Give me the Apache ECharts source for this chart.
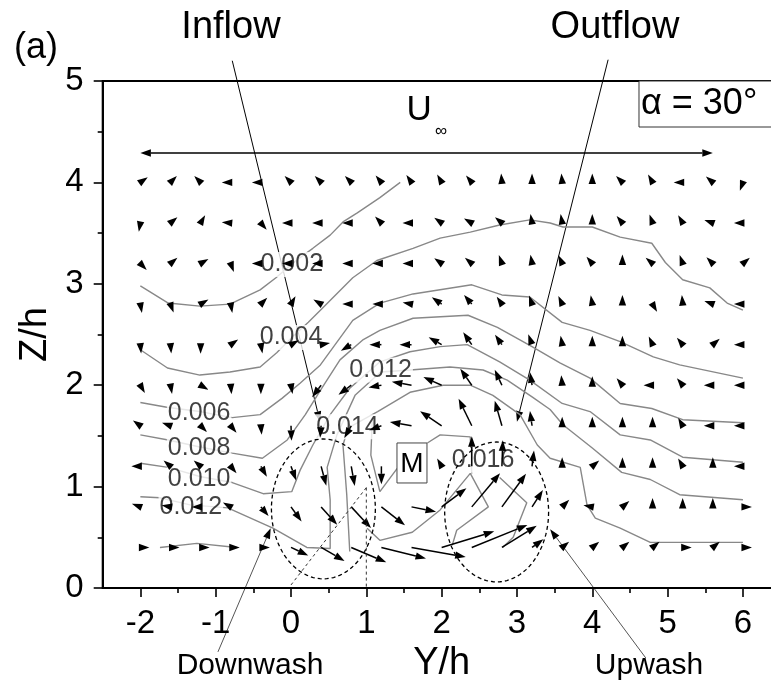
<!DOCTYPE html>
<html><head><meta charset="utf-8">
<script src="https://cdn.jsdelivr.net/npm/echarts@6.0.0/dist/echarts.min.js"></script>
<style>html,body{margin:0;padding:0;background:#fff;}#chart{width:771px;height:688px;}</style>
</head><body><div id="chart"></div>
<script>
// ---------- DATA ----------
const colY = [-2.0,-1.6,-1.2,-0.8,-0.4,0.0,0.4,0.8,1.2,1.6,2.0,2.4,2.8,3.2,3.6,4.0,4.4,4.8,5.2,5.6,6.0];
const rowZ = [4.0,3.6,3.2,2.8,2.4,2.0,1.6,1.2,0.8,0.4];
// vector direction (deg, 0 = +Y, 90 = +Z) for each row
const dirZ40 = [35,45,135,180,180,135,135,135,130,125,120,130,95,90,95,90,135,120,180,140,-110];
const dirZ36 = [-100,40,60,175,-50,180,180,180,135,180,145,150,140,100,100,90,130,110,120,160,180];
const dirZ32 = [-45,40,30,-70,180,180,180,180,180,180,145,140,110,100,115,130,90,140,110,135,40];
const dirZ28 = [-80,-70,30,-80,45,60,150,180,180,170,145,130,125,110,115,100,90,-60,95,160,180];
const dirZ24 = [-85,-85,-90,35,-80,30,10,-150,180,180,150,125,125,110,100,90,90,115,130,40,180];
const dirZ20 = [-60,-80,-30,-85,-90,-80,-127,-143,190,170,156,125,115,99,95,90,130,180,130,180,180];
const dirZ16 = [145,160,-45,-50,-85,-88,-95,-120,-160,170,146,116,106,98,90,90,90,90,120,180,180];
const dirZ12 = [180,140,140,-50,-60,-70,-75,-80,-90,120,120,90,88,83,90,40,90,90,120,90,180];
const dirZ08 = [160,170,180,150,-50,-54,-48,-47,-38,-11,37,50,54,57,45,170,40,90,90,90,0];
const dirZ04 = [0,0,0,0,0,-25,-30,-23,-14,-10,17,22,32,36,40,40,40,40,0,40,0];
// vector magnitude (arbitrary units) for each row
const magZ40 = [0.9,0.9,0.9,0.9,0.9,0.9,0.9,0.9,0.9,0.9,0.9,0.9,0.9,0.9,0.9,0.9,0.9,0.9,0.9,0.9,0.9];
const magZ36 = [0.9,0.9,0.9,0.9,0.9,0.9,0.9,0.9,0.9,0.9,0.9,0.9,0.9,0.9,0.9,0.9,0.9,0.9,0.9,0.9,0.9];
const magZ32 = [0.9,0.9,0.9,0.9,0.9,0.9,0.9,0.9,0.9,0.9,0.9,0.9,0.9,0.9,0.9,0.9,0.9,0.9,0.9,0.9,0.9];
const magZ28 = [0.9,0.9,0.9,0.9,0.9,0.9,0.9,0.9,0.9,0.9,1.2,1.2,0.9,0.9,0.9,0.9,0.9,0.9,0.9,0.9,0.9];
const magZ24 = [0.9,0.9,0.9,0.9,0.9,0.9,0.9,1.2,1.2,1.2,1.5,1.5,1.2,1.1,0.9,0.9,0.9,0.9,0.9,0.9,0.9];
const magZ20 = [0.9,0.9,0.9,0.9,0.9,0.9,1.5,1.6,1.3,2.0,2.0,2.0,1.7,1.3,1.0,0.9,0.9,0.9,0.9,0.9,0.9];
const magZ16 = [0.9,0.9,0.9,0.9,0.9,1.5,1.2,1.4,1.3,2.2,2.6,3.0,2.6,1.5,0.9,0.9,0.9,0.9,0.9,0.9,0.9];
const magZ12 = [0.9,0.9,0.9,0.9,1.2,1.5,2.0,2.0,1.8,0.9,0.9,3.0,2.6,1.6,0.9,0.9,0.9,0.9,0.9,0.9,0.9];
const magZ08 = [0.9,0.9,0.9,0.9,1.2,1.8,2.4,2.9,3.0,2.5,3.1,4.4,4.1,2.0,1.0,0.9,0.9,0.9,0.9,0.9,0.9];
const magZ04 = [0.9,0.9,0.9,0.9,0.9,1.9,2.7,3.8,4.6,5.5,5.5,6.0,4.1,1.4,0.9,0.9,0.9,0.9,0.9,0.9,0.9];

// contour lines [Y/h, Z/h]
const c002 = [[-2.0,2.98],[-1.63,2.81],[-1.21,2.78],[-0.81,2.80],[-0.41,2.94],[-0.2,3.06],[0.05,3.22],[0.29,3.35],[0.52,3.48],[0.69,3.61],[0.88,3.70],[1.18,3.85],[1.45,4.0]];
const c004 = [[-2.0,2.35],[-1.64,2.17],[-1.21,2.10],[-0.81,2.13],[-0.41,2.18],[-0.19,2.32],[0.01,2.47],[0.23,2.62],[0.39,2.74],[0.82,3.06],[1.14,3.23],[1.62,3.35],[1.98,3.45],[2.38,3.51],[2.77,3.58],[3.17,3.63],[3.44,3.60],[3.61,3.56],[4.0,3.56],[4.37,3.46],[4.79,3.40],[4.97,3.21],[5.2,3.04],[5.56,2.96],[5.79,2.81],[6.0,2.74]];
const c006 = [[-2.0,1.83],[-1.63,1.78],[-1.21,1.74],[-0.78,1.68],[-0.41,1.71],[-0.12,1.87],[0.12,2.02],[0.39,2.20],[0.82,2.64],[1.18,2.81],[1.62,2.90],[2.40,2.99],[2.80,2.89],[3.17,2.87],[3.60,2.62],[3.97,2.54],[4.37,2.43],[4.81,2.28],[5.16,2.20],[6.0,2.07]];
const c008 = [[-2.0,1.51],[-1.63,1.46],[-1.21,1.39],[-0.78,1.33],[-0.38,1.28],[-0.05,1.46],[0.19,1.71],[0.39,1.95],[0.65,2.25],[0.96,2.45],[1.18,2.54],[1.62,2.66],[2.35,2.69],[2.74,2.57],[3.20,2.38],[3.57,2.22],[3.97,2.07],[4.37,1.82],[4.79,1.77],[5.20,1.66],[6.0,1.63]];
const c010 = [[-2.0,1.23],[-1.63,1.19],[-1.21,1.10],[-0.78,1.04],[-0.37,0.93],[0.01,0.95],[0.12,1.16],[0.29,1.41],[0.52,1.71],[0.78,1.97],[1.18,2.23],[1.58,2.33],[1.98,2.38],[2.34,2.40],[2.77,2.23],[3.17,2.05],[3.60,1.82],[3.97,1.74],[4.37,1.51],[4.77,1.46],[5.20,1.29],[6.0,1.24]];
const c012 = [[-2.0,0.90],[-1.74,0.89],[-1.34,0.82],[-0.84,0.79],[-0.24,0.59],[0.21,0.40],[0.52,0.39],[0.52,0.87],[0.48,1.19],[0.61,1.51],[0.85,1.90],[1.19,2.13],[1.58,2.15],[2.11,2.18],[2.55,2.15],[2.87,2.05],[3.21,1.88],[3.44,1.76],[3.61,1.61],[4.00,1.38],[4.39,1.14],[4.77,1.07],[5.16,0.92],[6.0,0.87]];
const c014 = [[0.78,0.36],[0.74,0.92],[0.69,1.41],[0.76,1.58],[1.15,1.74],[1.58,1.93],[2.02,2.00],[2.38,2.00],[2.68,1.90],[3.04,1.71],[3.27,1.41],[3.44,1.28],[3.84,1.19],[3.93,0.82],[4.04,0.69],[4.37,0.59],[4.77,0.45],[6.0,0.45]];
const c016a = [[1.08,1.68],[1.06,1.31],[1.18,0.95],[1.41,1.18]];
const c016b = [[1.81,1.43],[1.98,1.51],[2.38,1.49],[2.40,1.13]];
const c016c = [[1.01,0.59],[1.18,0.47],[1.61,0.55],[1.98,0.77],[2.38,1.13],[2.62,0.80],[2.20,0.57],[2.14,0.42]];
const c016d = [[2.77,1.09],[3.13,0.84],[2.95,0.50],[2.81,0.40]];
const cLow = [[-1.74,0.40],[-1.25,0.44],[-0.72,0.40]];
// contour labels [Y/h, Z/h, text]
const contourLabels = [[0.01,3.19,'0.002'],[0.0,2.47,'0.004'],[-1.22,1.72,'0.006'],[-1.22,1.38,'0.008'],[-1.22,1.07,'0.010'],[-1.33,0.80,'0.012'],[1.19,2.15,'0.012'],[0.75,1.59,'0.014'],[2.55,1.26,'0.016']];
// axis ticks
const xTicks = [-2,-1,0,1,2,3,4,5,6];
const xMinorTicks = [-1.5,-0.5,0.5,1.5,2.5,3.5,4.5,5.5];

// ---------- BUILD ----------
const FONT = '"Liberation Sans", Arial, Helvetica, sans-serif';
const dirRows = [dirZ40,dirZ36,dirZ32,dirZ28,dirZ24,dirZ20,dirZ16,dirZ12,dirZ08,dirZ04];
const magRows = [magZ40,magZ36,magZ32,magZ28,magZ24,magZ20,magZ16,magZ12,magZ08,magZ04];
const vectors = [];
rowZ.forEach((z, r) => colY.forEach((y, c) => vectors.push([y, z, dirRows[r][c], magRows[r][c]])));

const ARROW_SCALE = 10, HEAD_LEN = 10.5, HEAD_HALF = 3.7;
function arrowParts(p0, p1, color, width, headAtStart) {
  const dx = p1[0]-p0[0], dy = p1[1]-p0[1];
  const L = Math.hypot(dx, dy) || 1;
  const ux = dx/L, uy = dy/L;
  const hl = HEAD_LEN, hw = HEAD_HALF;
  const parts = [];
  const b = [p1[0]-ux*hl, p1[1]-uy*hl];
  let s = p0;
  if (headAtStart) {
    const b0 = [p0[0]+ux*hl, p0[1]+uy*hl];
    parts.push({type:'polygon', shape:{points:[p0,[b0[0]-uy*hw,b0[1]+ux*hw],[b0[0]+uy*hw,b0[1]-ux*hw]]}, style:{fill:'#000'}});
    s = b0;
  }
  if (L > hl + 0.5) parts.push({type:'line', shape:{x1:s[0],y1:s[1],x2:b[0],y2:b[1]}, style:{stroke:color, lineWidth:width}});
  parts.push({type:'polygon', shape:{points:[p1,[b[0]-uy*hw,b[1]+ux*hw],[b[0]+uy*hw,b[1]-ux*hw]]}, style:{fill:'#000'}});
  return parts;
}

function contourSeries(data) {
  return {type:'line', data:data, xAxisIndex:0, yAxisIndex:0, symbol:'none', showSymbol:false, silent:true, z:2,
    lineStyle:{color:'#888', width:1.4}, animation:false};
}

const chart = echarts.init(document.getElementById('chart'), null, {renderer:'canvas'});
const option = {
  animation:false,
  backgroundColor:'#fff',
  grid:{left:102.7, top:81, right:-9.6, bottom:100, show:true, borderColor:'#000', borderWidth:2, backgroundColor:'transparent', containLabel:false, outerBoundsMode:'none'},
  xAxis:[{
    type:'value', min:-2.5, max:6.5, position:'bottom',
    name:'Y/h', nameLocation:'middle', nameGap:52,
    nameTextStyle:{fontSize:38, color:'#000', fontFamily:FONT},
    axisLine:{show:true, onZero:false, lineStyle:{color:'#000', width:2}},
    axisTick:{show:true, inside:false, length:9, customValues:xTicks, lineStyle:{color:'#000', width:1.6}},
    axisLabel:{show:true, customValues:xTicks, fontSize:33, color:'#000', fontFamily:FONT, margin:19},
    splitLine:{show:false}
  },{
    type:'value', min:-2.5, max:6.5, position:'bottom',
    axisLine:{show:false, onZero:false},
    axisTick:{show:true, inside:false, length:5, customValues:xMinorTicks, lineStyle:{color:'#000', width:1.6}},
    axisLabel:{show:false}, splitLine:{show:false}
  }],
  yAxis:{
    type:'value', min:0, max:5, interval:1,
    name:'Z/h', nameLocation:'middle', nameGap:46,
    nameTextStyle:{fontSize:38, color:'#000', fontFamily:FONT},
    axisLine:{show:true, onZero:false, lineStyle:{color:'#000', width:2}},
    axisTick:{show:true, inside:false, length:9, lineStyle:{color:'#000', width:1.6}},
    minorTick:{show:true, splitNumber:2, length:5, lineStyle:{color:'#000', width:1.6}},
    axisLabel:{fontSize:33, color:'#000', fontFamily:FONT, margin:19},
    splitLine:{show:false}
  },
  series:[
    contourSeries(c002), contourSeries(c004), contourSeries(c006), contourSeries(c008),
    contourSeries(c010), contourSeries(c012), contourSeries(c014),
    contourSeries(c016a), contourSeries(c016b), contourSeries(c016c), contourSeries(c016d), contourSeries(cLow),
    {type:'scatter', data:contourLabels, symbolSize:0, silent:true, z:3,
      label:{show:true, position:'inside', formatter:p => p.data[2], fontSize:25, color:'#111', fontFamily:FONT,
        backgroundColor:'#fff', padding:[0,1]}},
    {type:'custom', data:vectors, z:4, silent:true, encode:{x:0, y:1},
      renderItem:function(params, api){
        const p = api.coord([api.value(0), api.value(1)]);
        const a = api.value(2)*Math.PI/180, L = api.value(3)*ARROW_SCALE;
        const p1 = [p[0] + L*Math.cos(a), p[1] - L*Math.sin(a)];
        return {type:'group', children:arrowParts(p, p1, '#000', 1.5, false)};
      }}
  ]
};
chart.setOption(option);

// ---------- ANNOTATIONS ----------
const T = (y, z) => chart.convertToPixel({gridIndex:0}, [y, z]);
const g = [];
function addArrow(a, b, color, width, both) {
  g.push({type:'group', z:50, children:arrowParts(T(a[0],a[1]), T(b[0],b[1]), color, width, both)});
}
function addEllipse(cy, cz, r) {
  const c = T(cy, cz), e = T(cy + r, cz + r);
  const rx = e[0]-c[0], ry = c[1]-e[1];
  const pts = [];
  for (let i = 0; i <= 96; i++) { const t = i/96*2*Math.PI; pts.push([c[0]+rx*Math.cos(t), c[1]+ry*Math.sin(t)]); }
  g.push({type:'polyline', z:40, shape:{points:pts}, style:{stroke:'#000', lineWidth:1.3, lineDash:[4,3], fill:null}});
}
function addDash(a, b) {
  const p = T(a[0],a[1]), q = T(b[0],b[1]);
  g.push({type:'line', z:40, shape:{x1:p[0],y1:p[1],x2:q[0],y2:q[1]}, style:{stroke:'#333', lineWidth:1, lineDash:[3,3]}});
}
function addText(txt, x, y, size, align) {
  g.push({type:'text', z:60, x:x, y:y, style:{text:txt, fontSize:size, fontFamily:FONT, fill:'#000', align:align||'center', verticalAlign:'middle'}});
}
addArrow([-0.78,5.20],[0.385,1.64],'#000',1,false);   // Inflow
addArrow([4.21,5.21],[3.0,1.64],'#000',1,false);      // Outflow
addArrow([-0.97,-0.63],[-0.27,0.59],'#555',1,false);  // Downwash
addArrow([4.71,-0.69],[3.44,0.58],'#555',1,false);    // Upwash
addArrow([-2.0,4.29],[5.6,4.29],'#000',1.3,true);     // U infinity
addEllipse(0.43,0.78,0.69);
addEllipse(2.73,0.75,0.69);
addDash([0,0.03],[1.0,0.99]);
addDash([1.0,0.99],[1.0,0]);
// M box
const m = T(1.606,1.233);
g.push({type:'rect', z:55, shape:{x:m[0]-15, y:m[1]-20, width:30, height:40}, style:{fill:'#fff', stroke:'#444', lineWidth:1}});
addText('M', m[0], m[1]+1, 28);
// alpha box
const ab = T(4.62,5.0);
g.push({type:'rect', z:55, shape:{x:ab[0], y:ab[1], width:160, height:46}, style:{fill:'#fff', stroke:'#333', lineWidth:1}});
addText('\u03b1 = 30\u00b0', ab[0]+2, ab[1]+23, 36, 'left');
// U infinity label
const u = T(1.70,4.71);
addText('U', u[0], u[1], 35);
addText('\u221e', u[0]+22, u[1]+21, 17);
// outer labels
addText('(a)', 36, 48, 36);
addText('Inflow', 231, 28, 38);
addText('Outflow', 615, 28, 38);
addText('Downwash', 250, 666, 30);
addText('Upwash', 649, 666, 30);
chart.setOption({graphic:{elements:g}});
</script>
</body></html>
